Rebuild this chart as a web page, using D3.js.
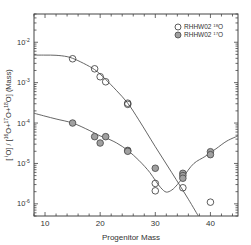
<!DOCTYPE html>
<html><head><meta charset="utf-8">
<script src="https://cdn.jsdelivr.net/npm/d3@7"></script>
<style>body{margin:0;background:#fff}svg{display:block}text{font-family:"Liberation Sans",Arial,sans-serif;fill:#333}</style>
</head><body>
<svg id="c" width="251" height="245"></svg>
<script>
// data
const o18Mass = [15, 19, 20, 21, 25, 25, 30, 30, 35, 40];
const o18Val  = [3.9e-3, 2.2e-3, 1.4e-3, 1.05e-3, 3.1e-4, 2.9e-4, 3.2e-6, 2.1e-6, 2.5e-6, 1.1e-6];
const o17Mass = [15, 19, 20, 21, 25, 25, 30, 35, 35, 35, 40, 40];
const o17Val  = [1.0e-4, 4.6e-5, 3.2e-5, 4.6e-5, 2.1e-5, 2.0e-5, 7.6e-6, 5.7e-6, 5.0e-6, 4.3e-6, 1.95e-5, 1.65e-5];
const fit18Mass = [8, 10, 12, 14, 15, 17, 19, 20, 21, 23, 25, 27, 30, 33, 36, 37.8];
const fit18Val  = [4.8e-3, 4.8e-3, 4.75e-3, 4.4e-3, 4.0e-3, 3.0e-3, 2.1e-3, 1.62e-3, 1.2e-3, 6.3e-4, 3.1e-4, 1.2e-4, 2.6e-5, 5.9e-6, 1.3e-6, 5e-7];
const fit17Mass = [8, 10, 12, 15, 18, 20, 21, 23, 25, 27, 29, 30, 31, 32, 33, 34, 35, 37, 39, 40, 41, 43, 45];
const fit17Val  = [1.75e-4, 1.48e-4, 1.26e-4, 1.0e-4, 6.6e-5, 4.8e-5, 4.3e-5, 3.2e-5, 2.1e-5, 1.2e-5, 6.0e-6, 3.8e-6, 2.5e-6, 1.95e-6, 2.2e-6, 3.0e-6, 4.5e-6, 1.0e-5, 1.48e-5, 1.86e-5, 2.3e-5, 3.6e-5, 4.8e-5];
const xTicks = [10, 20, 30, 40];
const yTicks = [1e-6, 1e-5, 1e-4, 1e-3, 1e-2];
const yTickExp = ["-6", "-5", "-4", "-3", "-2"];

const svg = d3.select("#c");
const L = 34, R = 238, T = 14, B = 216;
const x = d3.scaleLinear().domain([8, 45]).range([L, R]);
const y = d3.scaleLog().domain([5e-7, 5e-2]).range([B, T]);
const axisCol = "#444";

// minor ticks
const g = svg.append("g");
const xMinor = d3.range(8, 46, 2);
xMinor.forEach(v => {
  const len = (v % 10 === 0) ? 4 : 2.5;
  g.append("line").attr("x1", x(v)).attr("x2", x(v)).attr("y1", B).attr("y2", B - len).attr("stroke", axisCol).attr("stroke-width", 0.8);
  g.append("line").attr("x1", x(v)).attr("x2", x(v)).attr("y1", T).attr("y2", T + len).attr("stroke", axisCol).attr("stroke-width", 0.8);
});
const yMinor = [];
for (let e = -7; e <= -2; e++) for (let k = 1; k <= 9; k++) { const v = k * Math.pow(10, e); if (v >= 5e-7 && v <= 5e-2) yMinor.push([v, k === 1]); }
yMinor.forEach(([v, major]) => {
  const len = major ? 4 : 2.5;
  g.append("line").attr("x1", L).attr("x2", L + len).attr("y1", y(v)).attr("y2", y(v)).attr("stroke", axisCol).attr("stroke-width", 0.8);
  g.append("line").attr("x1", R).attr("x2", R - len).attr("y1", y(v)).attr("y2", y(v)).attr("stroke", axisCol).attr("stroke-width", 0.8);
});
svg.append("rect").attr("x", L).attr("y", T).attr("width", R - L).attr("height", B - T).attr("fill", "none").attr("stroke", axisCol).attr("stroke-width", 1);

// tick labels
xTicks.forEach(v => svg.append("text").attr("x", x(v)).attr("y", 226).attr("text-anchor", "middle").attr("font-size", 8).text(v));
yTicks.forEach((v, i) => {
  const t = svg.append("text").attr("x", 17).attr("y", y(v) + 2.5).attr("font-size", 7.5);
  t.append("tspan").text("10");
  t.append("tspan").attr("dy", -3).attr("font-size", 5).text(yTickExp[i]);
});

// axis titles
svg.append("text").attr("x", 131).attr("y", 240).attr("text-anchor", "middle").attr("font-size", 8).text("Progenitor Mass");
const yl = svg.append("text").attr("transform", "translate(11,115) rotate(-90)").attr("text-anchor", "middle").attr("font-size", 7.5);
yl.append("tspan").text("[ ");
yl.append("tspan").attr("dy", -3).attr("font-size", 5).text("i");
yl.append("tspan").attr("dy", 3).text("O] / [");
yl.append("tspan").attr("dy", -3).attr("font-size", 5).text("16");
yl.append("tspan").attr("dy", 3).text("O+");
yl.append("tspan").attr("dy", -3).attr("font-size", 5).text("17");
yl.append("tspan").attr("dy", 3).text("O+");
yl.append("tspan").attr("dy", -3).attr("font-size", 5).text("18");
yl.append("tspan").attr("dy", 3).text("O]  (Mass)");

// curves
const plot = svg.append("g");
const line = d3.line().x(d => x(d[0])).y(d => y(d[1])).curve(d3.curveCatmullRom);
plot.append("path").datum(fit18Mass.map((m, i) => [m, fit18Val[i]])).attr("d", line).attr("fill", "none").attr("stroke", "#555").attr("stroke-width", 0.9);
plot.append("path").datum(fit17Mass.map((m, i) => [m, fit17Val[i]])).attr("d", line).attr("fill", "none").attr("stroke", "#555").attr("stroke-width", 0.9);

// points
o18Mass.forEach((m, i) => plot.append("circle").attr("cx", x(m)).attr("cy", y(o18Val[i])).attr("r", 3.3).attr("fill", "#fff").attr("fill-opacity", 0).attr("stroke", "#333").attr("stroke-width", 0.8));
o17Mass.forEach((m, i) => plot.append("circle").attr("cx", x(m)).attr("cy", y(o17Val[i])).attr("r", 3.3).attr("fill", "#a0a0a0").attr("stroke", "#444").attr("stroke-width", 0.8));

// legend
const lg = svg.append("g");
lg.append("circle").attr("cx", 178).attr("cy", 27).attr("r", 3).attr("fill", "#fff").attr("stroke", "#333").attr("stroke-width", 0.8);
lg.append("circle").attr("cx", 178).attr("cy", 35).attr("r", 3).attr("fill", "#a0a0a0").attr("stroke", "#444").attr("stroke-width", 0.8);
const t1 = lg.append("text").attr("x", 184).attr("y", 29.3).attr("font-size", 6.5);
t1.append("tspan").text("RHHW02 ");
t1.append("tspan").attr("dy", -2.5).attr("font-size", 4.3).text("18");
t1.append("tspan").attr("dy", 2.5).text("O");
const t2 = lg.append("text").attr("x", 184).attr("y", 37.3).attr("font-size", 6.5);
t2.append("tspan").text("RHHW02  ");
t2.append("tspan").attr("dy", -2.5).attr("font-size", 4.3).text("17");
t2.append("tspan").attr("dy", 2.5).text("O");
</script>
</body></html>
